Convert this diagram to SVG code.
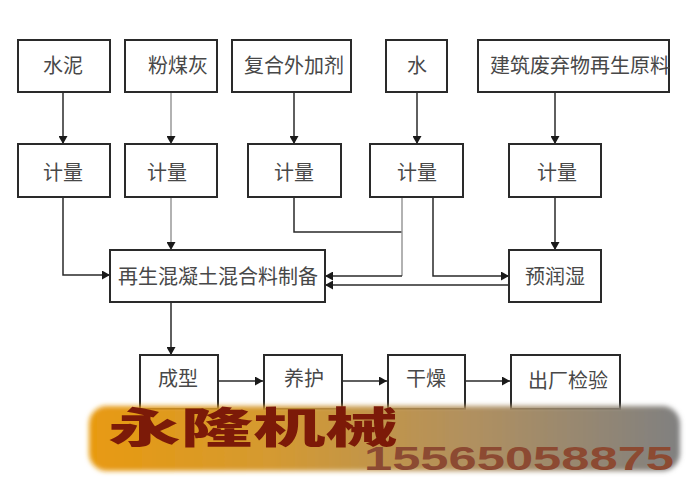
<svg xmlns="http://www.w3.org/2000/svg" width="690" height="481" viewBox="0 0 690 481">
<style>
.n{fill:#fff;stroke:#2a2a2a;stroke-width:2}
.t{font-family:"Noto Sans CJK SC","Liberation Serif",serif;font-size:20px;fill:#484848;text-anchor:middle}
.c{fill:none;stroke:#2a2a2a;stroke-width:1.5}
.g{stroke:#999}
</style>
<defs>
<marker id="a" markerUnits="userSpaceOnUse" markerWidth="9" markerHeight="9" refX="8" refY="4.5" orient="auto"><path d="M0 0L8 4.5L0 9Z" fill="#1a1a1a"/></marker>
<linearGradient id="b" x1="0" x2="1" y1="0" y2="0"><stop offset="0" stop-color="#e89a10"/><stop offset=".3" stop-color="#d59a30"/><stop offset=".65" stop-color="#b09060"/><stop offset="1" stop-color="#808080"/></linearGradient>
<filter id="s" x="-5%" y="-20%" width="110%" height="140%"><feGaussianBlur stdDeviation="2.5"/></filter>
</defs>
<rect width="690" height="481" fill="#fff"/>
<g id="connectors">
<path class="c" marker-end="url(#a)" d="M63 92V144"/>
<path class="c g" marker-end="url(#a)" d="M171 92V144"/>
<path class="c" marker-end="url(#a)" d="M294 92V144"/>
<path class="c" marker-end="url(#a)" d="M417 92V144"/>
<path class="c" marker-end="url(#a)" d="M555 92V144"/>
<path class="c" marker-end="url(#a)" d="M63 197V275H110"/>
<path class="c g" marker-end="url(#a)" d="M171 197V250"/>
<path class="c" d="M294 197V232H402"/>
<path class="c g" d="M402 197V276"/>
<path class="c" marker-end="url(#a)" d="M402 276H325"/>
<path class="c" marker-end="url(#a)" d="M433 197V276H509"/>
<path class="c" marker-end="url(#a)" d="M509 285H325"/>
<path class="c" marker-end="url(#a)" d="M555 197V250"/>
<path class="c" marker-end="url(#a)" d="M171 302V355"/>
<path class="c" marker-end="url(#a)" d="M218 381H263"/>
<path class="c" marker-end="url(#a)" d="M342 381H387"/>
<path class="c" marker-end="url(#a)" d="M465 381H510"/>
</g>
<g id="n1"><rect class="n" x="18" y="40" width="92" height="52"/><text class="t" x="63" y="73">水泥</text></g>
<g id="n2"><rect class="n" x="125" y="40" width="92" height="52"/><text class="t" x="178" y="73">粉煤灰</text></g>
<g id="n3"><rect class="n" x="232" y="40" width="119" height="52"/><text class="t" x="294" y="73">复合外加剂</text></g>
<g id="n4"><rect class="n" x="386" y="40" width="61" height="52"/><text class="t" x="417" y="73">水</text></g>
<g id="n5"><rect class="n" x="478" y="40" width="191" height="52"/><text class="t" x="580" y="73">建筑废弃物再生原料</text></g>
<g id="n6"><rect class="n" x="18" y="144" width="92" height="53"/><text class="t" x="63" y="180">计量</text></g>
<g id="n7"><rect class="n" x="125" y="144" width="92" height="53"/><text class="t" x="167" y="180">计量</text></g>
<g id="n8"><rect class="n" x="248" y="144" width="93" height="53"/><text class="t" x="294" y="180">计量</text></g>
<g id="n9"><rect class="n" x="370" y="144" width="93" height="53"/><text class="t" x="417" y="180">计量</text></g>
<g id="n10"><rect class="n" x="509" y="144" width="92" height="53"/><text class="t" x="557" y="180">计量</text></g>
<g id="n11"><rect class="n" x="110" y="250" width="215" height="52"/><text class="t" x="218" y="284">再生混凝土混合料制备</text></g>
<g id="n12"><rect class="n" x="509" y="250" width="92" height="52"/><text class="t" x="555" y="284">预润湿</text></g>
<g id="n13"><rect class="n" x="140" y="355" width="78" height="54"/><text class="t" x="178" y="386">成型</text></g>
<g id="n14"><rect class="n" x="264" y="355" width="78" height="54"/><text class="t" x="304" y="386">养护</text></g>
<g id="n15"><rect class="n" x="388" y="355" width="77" height="54"/><text class="t" x="426" y="386">干燥</text></g>
<g id="n16"><rect class="n" x="511" y="355" width="109" height="54"/><text class="t" x="568" y="388">出厂检验</text></g>
<g id="banner">
<rect x="89" y="406" width="591" height="65" rx="18" fill="url(#b)" filter="url(#s)"/>
<text x="108" y="443" font-family="Noto Sans CJK SC,sans-serif" font-weight="900" font-size="42" fill="#7c1a08" textLength="290" lengthAdjust="spacingAndGlyphs">永隆机械</text>
<text x="364" y="470" font-family="Liberation Sans,sans-serif" font-weight="700" font-size="33" fill="#8c4a32" textLength="310" lengthAdjust="spacingAndGlyphs">15565058875</text>
</g>
</svg>
